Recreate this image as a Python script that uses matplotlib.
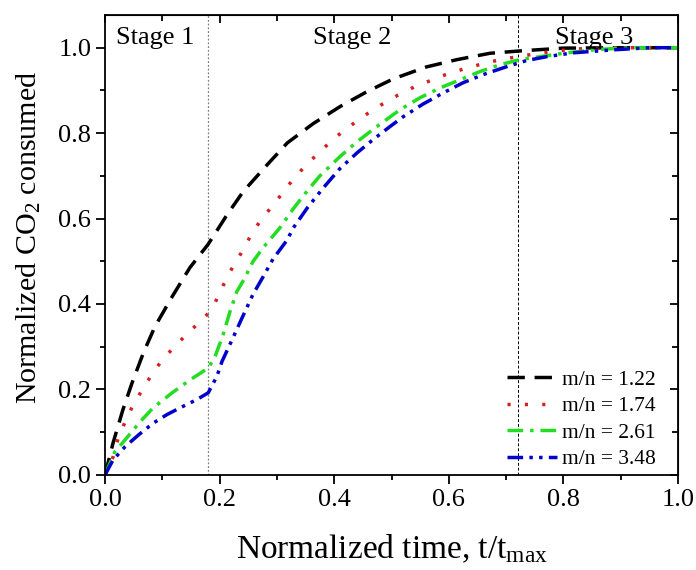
import matplotlib
matplotlib.use("Agg")
import matplotlib.pyplot as plt
from matplotlib.ticker import MultipleLocator, NullFormatter

plt.rcParams['font.family'] = ['Liberation Serif', 'DejaVu Serif']
plt.rcParams['mathtext.fontset'] = 'custom'
plt.rcParams['mathtext.rm'] = 'Liberation Serif'
plt.rcParams['mathtext.it'] = 'Liberation Serif:italic'

x_122 = [0, 0.014, 0.031, 0.047, 0.067, 0.087, 0.117, 0.148, 0.18, 0.213, 0.241, 0.283,
         0.318, 0.363, 0.41, 0.457, 0.503, 0.561, 0.614, 0.672, 0.73, 0.8, 0.9, 1.0]
y_122 = [0, 0.075, 0.152, 0.215, 0.286, 0.347, 0.417, 0.485, 0.54, 0.609, 0.663, 0.726,
         0.777, 0.822, 0.862, 0.897, 0.927, 0.955, 0.972, 0.987, 0.993, 0.999, 1.0, 1.0]

x_174 = [0, 0.014, 0.023, 0.035, 0.049, 0.065, 0.082, 0.101, 0.124, 0.147, 0.171, 0.18,
         0.192, 0.206, 0.221, 0.237, 0.253, 0.27, 0.291, 0.31, 0.33, 0.353, 0.377, 0.401,
         0.428, 0.455, 0.483, 0.51, 0.541, 0.572, 0.602, 0.634, 0.666, 0.698, 0.73, 0.762,
         0.82, 0.9, 1.0]
y_174 = [0, 0.042, 0.087, 0.124, 0.164, 0.199, 0.236, 0.271, 0.304, 0.335, 0.365, 0.378,
         0.403, 0.443, 0.482, 0.518, 0.557, 0.593, 0.628, 0.66, 0.695, 0.728, 0.759, 0.789,
         0.817, 0.843, 0.867, 0.888, 0.909, 0.925, 0.941, 0.953, 0.965, 0.974, 0.981, 0.988,
         0.997, 1.0, 1.0]

x_261 = [0, 0.017, 0.035, 0.061, 0.084, 0.117, 0.148, 0.18, 0.192, 0.206, 0.218, 0.23,
         0.244, 0.258, 0.276, 0.305, 0.328, 0.353, 0.375, 0.41, 0.44, 0.474, 0.515, 0.55,
         0.585, 0.62, 0.654, 0.689, 0.724, 0.759, 0.806, 0.86, 0.92, 1.0]
y_261 = [0, 0.054, 0.082, 0.124, 0.157, 0.192, 0.222, 0.25, 0.277, 0.328, 0.382, 0.429,
         0.461, 0.499, 0.532, 0.578, 0.622, 0.665, 0.7, 0.745, 0.78, 0.815, 0.855, 0.883,
         0.906, 0.925, 0.944, 0.96, 0.972, 0.979, 0.988, 0.996, 1.0, 1.0]

x_348 = [0, 0.014, 0.035, 0.058, 0.084, 0.108, 0.131, 0.16, 0.18, 0.195, 0.204, 0.224,
         0.239, 0.258, 0.276, 0.293, 0.318, 0.328, 0.353, 0.381, 0.41, 0.44, 0.468, 0.497,
         0.52, 0.555, 0.59, 0.625, 0.66, 0.702, 0.736, 0.771, 0.817, 0.887, 0.95, 1.0]
y_348 = [0, 0.035, 0.066, 0.093, 0.121, 0.141, 0.157, 0.176, 0.192, 0.23, 0.265, 0.323,
         0.367, 0.422, 0.464, 0.505, 0.55, 0.577, 0.625, 0.672, 0.717, 0.754, 0.785, 0.815,
         0.838, 0.868, 0.894, 0.918, 0.937, 0.956, 0.97, 0.979, 0.988, 0.995, 1.0, 1.0]

stage_bounds = [0.18, 0.72]
stage_names = ["Stage 1", "Stage 2", "Stage 3"]
stage_x = [0.087, 0.431, 0.853]

fig = plt.figure(figsize=(6.96, 5.7), dpi=100)
ax = fig.add_axes([0.151, 0.167, 0.823, 0.807])

ax.axvline(stage_bounds[0], color='gray', lw=0.9, ls=(0, (1.5, 1.5)), zorder=1)
ax.axvline(stage_bounds[1], color='black', lw=0.7, ls=(0, (3, 2)), zorder=1)

lw = 2.5
ax.plot(x_122, y_122, color='black', lw=lw, ls=(0, (5, 2.8)), label='m/n = 1.22')
ax.plot(x_174, y_174, color='#d42020', lw=lw, ls=(0, (0.9, 4.1)), label='m/n = 1.74')
ax.plot(x_261, y_261, color='#22dd22', lw=lw, ls=(0, (4.5, 2, 1, 2)), label='m/n = 2.61')
ax.plot(x_348, y_348, color='#0000cc', lw=lw, ls=(0, (4.5, 1.8, 1, 1.8, 1, 1.8)), label='m/n = 3.48')

for name, sx in zip(stage_names, stage_x):
    ax.text(sx, 1.022, name, ha='center', va='center', fontsize=19)

ax.set_xlim(0, 1.0)
ax.set_ylim(0, 1.077)
ax.xaxis.set_major_locator(MultipleLocator(0.2))
ax.xaxis.set_minor_locator(MultipleLocator(0.1))
ax.set_yticks([0, 0.2, 0.4, 0.6, 0.8, 1.0])
ax.yaxis.set_minor_locator(MultipleLocator(0.1))
ax.xaxis.set_major_formatter(plt.FormatStrFormatter('%.1f'))
ax.yaxis.set_major_formatter(plt.FormatStrFormatter('%.1f'))
ax.tick_params(which='major', direction='out', length=6.5, width=1.3, labelsize=19)
ax.tick_params(which='minor', direction='out', length=3.5, width=1.3)
for s in ax.spines.values():
    s.set_linewidth(1.3)

top = ax.secondary_xaxis('top')
top.xaxis.set_major_locator(MultipleLocator(0.2))
top.xaxis.set_minor_locator(MultipleLocator(0.1))
top.xaxis.set_major_formatter(NullFormatter())
top.tick_params(which='major', direction='in', length=6, width=1.3)
top.tick_params(which='minor', direction='in', length=4, width=1.3)
right = ax.secondary_yaxis('right')
right.set_yticks([0, 0.2, 0.4, 0.6, 0.8, 1.0])
right.yaxis.set_minor_locator(MultipleLocator(0.1))
right.yaxis.set_major_formatter(NullFormatter())
right.tick_params(which='major', direction='in', length=6, width=1.3)
right.tick_params(which='minor', direction='in', length=4, width=1.3)

ax.set_xlabel(r'Normalized time, t/t$_{\mathrm{max}}$', fontsize=24, labelpad=16)
ax.set_ylabel(r'Normalized CO$_2$ consumed', fontsize=21.6)
ax.yaxis.set_label_coords(-0.108, 0.515)

ax.legend(loc='lower right', bbox_to_anchor=(0.962, 0.012), frameon=False, fontsize=15.5,
          handlelength=2.3, handletextpad=0.25, labelspacing=0.3,
          borderpad=0, borderaxespad=0)

fig.savefig('out.png', dpi=100)
